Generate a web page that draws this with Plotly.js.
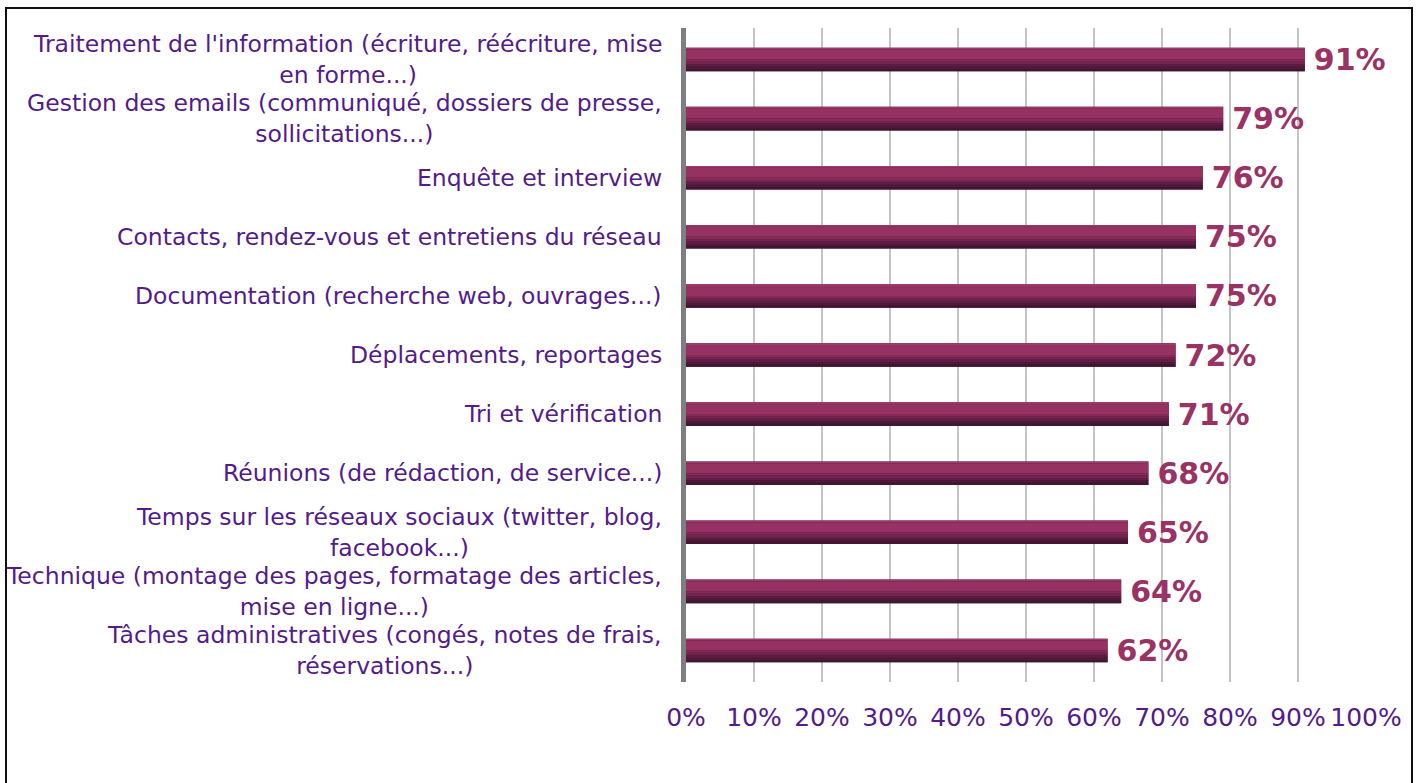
<!DOCTYPE html>
<html>
<head>
<meta charset="utf-8">
<script src="https://cdn.plot.ly/plotly-3.0.1.min.js"></script>
<style>
  html, body { margin: 0; padding: 0; background: #ffffff; }
  #chart { position: absolute; left: 0; top: 0; width: 1417px; height: 783px; }
  #frame { position: absolute; left: 5px; top: 7px; width: 1404px; height: 800px;
           border: 2px solid #111111; pointer-events: none; }
</style>
</head>
<body>
<div id="chart"></div>
<div id="frame"></div>
<script>
// ---- data ----
const categories = [
  "Traitement de l'information (écriture, réécriture, mise<br>en forme...)",
  "Gestion des emails (communiqué, dossiers de presse,<br>sollicitations...)",
  "Enquête et interview",
  "Contacts, rendez-vous et entretiens du réseau",
  "Documentation (recherche web, ouvrages...)",
  "Déplacements, reportages",
  "Tri et vérification",
  "Réunions (de rédaction, de service...)",
  "Temps sur les réseaux sociaux (twitter, blog,<br>facebook...)",
  "Technique (montage des pages, formatage des articles,<br>mise en ligne...)",
  "Tâches administratives (congés, notes de frais,<br>réservations...)"
];
const values = [91, 79, 76, 75, 75, 72, 71, 68, 65, 64, 62];
const tickValues = [0, 10, 20, 30, 40, 50, 60, 70, 80, 90, 100];
const tickLabels = ["0%", "10%", "20%", "30%", "40%", "50%", "60%", "70%", "80%", "90%", "100%"];

// ---- style ----
const labelColor = "#531b8c";
const valueColor = "#9a3264";
const FONT = "DejaVu Sans, Verdana, sans-serif";
const BAR_W = 0.4;

// gradient bands (top -> bottom) simulating the shaded bars
const bands = [
  { from: 0.00, to: 0.08, color: "#9e3a6a" },
  { from: 0.08, to: 0.50, color: "#963262" },
  { from: 0.50, to: 0.60, color: "#852a59" },
  { from: 0.60, to: 0.70, color: "#74244f" },
  { from: 0.70, to: 0.80, color: "#611d45" },
  { from: 0.80, to: 0.90, color: "#501939" },
  { from: 0.90, to: 1.00, color: "#421530" }
];

const traces = [];
// base trace carrying the value labels
traces.push({
  type: "bar",
  orientation: "h",
  x: values,
  y: categories,
  width: BAR_W,
  offset: -BAR_W / 2,
  marker: { color: "#3e1430", line: { width: 0 } },
  text: values.map(v => v + "%"),
  texttemplate: "\u2009%{text}",
  textposition: "outside",
  constraintext: "none",
  textfont: { family: FONT, size: 30, color: valueColor, weight: 700 },
  cliponaxis: false,
  hoverinfo: "x+y",
  showlegend: false
});
bands.forEach(b => {
  traces.push({
    type: "bar",
    orientation: "h",
    x: values,
    y: categories,
    width: BAR_W * (b.to - b.from),
    offset: -BAR_W / 2 + BAR_W * b.from,
    marker: { color: b.color, line: { width: 0 } },
    hoverinfo: "skip",
    showlegend: false
  });
});

const annotations = categories.map(c => ({
  xref: "paper", yref: "y",
  x: 0, y: c,
  xanchor: "right", yanchor: "middle",
  xshift: -22,
  align: "center",
  text: c,
  showarrow: false,
  font: { family: FONT, size: 23.5, color: labelColor }
}));

const layout = {
  width: 1417,
  height: 783,
  margin: { l: 686, r: 51, t: 28, b: 101, pad: 0 },
  paper_bgcolor: "rgba(0,0,0,0)",
  plot_bgcolor: "rgba(0,0,0,0)",
  barmode: "overlay",
  showlegend: false,
  xaxis: {
    range: [0, 100],
    tickvals: tickValues,
    ticktext: tickLabels,
    showgrid: true,
    gridcolor: "#c4c4c4",
    gridwidth: 2,
    zeroline: false,
    showline: false,
    ticks: "outside",
    ticklen: 13,
    tickcolor: "rgba(0,0,0,0)",
    tickfont: { family: FONT, size: 25, color: labelColor },
    fixedrange: true
  },
  yaxis: {
    type: "category",
    categoryorder: "array",
    categoryarray: categories,
    autorange: "reversed",
    showticklabels: false,
    ticks: "",
    showgrid: false,
    zeroline: false,
    showline: true,
    linecolor: "#7f7f7f",
    linewidth: 5,
    fixedrange: true
  },
  annotations: annotations
};

Plotly.newPlot("chart", traces, layout, { displayModeBar: false, staticPlot: true });
</script>
</body>
</html>
